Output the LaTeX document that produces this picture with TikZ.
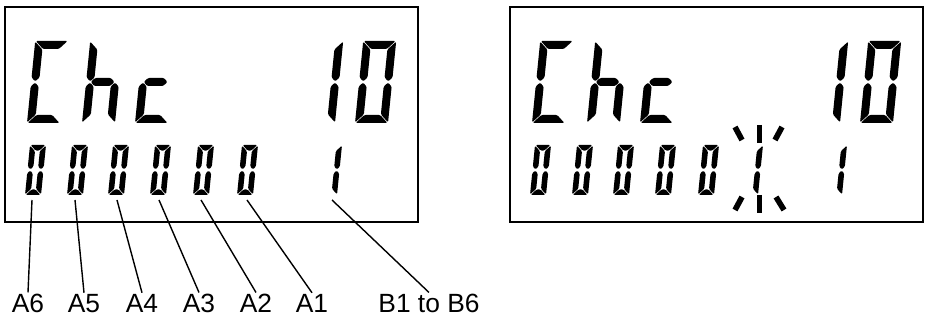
\documentclass[tikz,border=0pt]{standalone}
\usepackage{fontspec}
\setmainfont{Liberation Sans}
\usepackage{tikz,xcolor}
\usetikzlibrary{calc}

% the seven segments of one cell (a top, b/c right, d bottom, e/f left, g middle)
\newcommand{\lcda}{\fill[lcdseg] (\segd,\segh) -- (\segw-\segd,\segh) -- (\segw-\segt-\segd,\segh-\segt) -- (\segt+\segd,\segh-\segt) -- cycle;}
\newcommand{\lcdd}{\fill[lcdseg] (\segd,0) -- (\segw-\segd,0) -- (\segw-\segt-\segd,\segt) -- (\segt+\segd,\segt) -- cycle;}
\newcommand{\lcdf}{\fill[lcdseg] (0,\segh-\segd) -- (\segt,\segh-\segt-\segd) -- (\segt,\segm+\segs+\segd) -- (\segs,\segm+\segd) -- (0,\segm+\segs+\segd) -- cycle;}
\newcommand{\lcde}{\fill[lcdseg] (0,\segd) -- (\segt,\segt+\segd) -- (\segt,\segm-\segs-\segd) -- (\segs,\segm-\segd) -- (0,\segm-\segs-\segd) -- cycle;}
\newcommand{\lcdb}{\fill[lcdseg] (\segw,\segh-\segd) -- (\segw-\segt,\segh-\segt-\segd) -- (\segw-\segt,\segm+\segs+\segd) -- (\segw-\segs,\segm+\segd) -- (\segw,\segm+\segs+\segd) -- cycle;}
\newcommand{\lcdc}{\fill[lcdseg] (\segw,\segd) -- (\segw-\segt,\segt+\segd) -- (\segw-\segt,\segm-\segs-\segd) -- (\segw-\segs,\segm-\segd) -- (\segw,\segm-\segs-\segd) -- cycle;}
\newcommand{\lcdg}{\fill[lcdseg] (\segs+\segd,\segm) -- (\segt+\segd,\segm+\segs) -- (\segw-\segt-\segd,\segm+\segs) -- (\segw-\segs-\segd,\segm) -- (\segw-\segt-\segd,\segm-\segs) -- (\segt+\segd,\segm-\segs) -- cycle;}
% one slanted cell: x, y (bottom left), width, height, thickness, segments
\newcommand{\lcdchar}[6]{%
  \begin{scope}[shift={(#1,#2)},xslant=0.1]
    \def\segw{#3}\def\segh{#4}\def\segt{#5}\def\segd{0.6}
    \pgfmathsetmacro\segm{#4/2}\pgfmathsetmacro\segs{#5/2}
    \foreach \s in {#6}{\csname lcd\s\endcsname}
  \end{scope}}
\newcommand{\bigchar}[2]{\lcdchar{#1}{204}{33}{82}{8}{#2}}
\newcommand{\smallchar}[2]{\lcdchar{#1}{132}{16}{50}{5.6}{#2}}

\begin{document}
\begin{tikzpicture}[x=0.02cm,y=0.02cm,
  lcdseg/.style={black,rounded corners=0.7pt},
  panel/.style={draw=black,line width=1.1pt},
  leader/.style={black,line width=0.8pt},
  blink/.style={black,line width=3.2pt},
  tag/.style={anchor=base,inner sep=1pt,font=\fontsize{15}{17}\selectfont}]
\useasboundingbox (0,0) rectangle (928,327);
% left display
\draw[panel] (5,105) rectangle (418,320);
\bigchar{27}{a,f,e,d}
\bigchar{82}{f,e,g,c}
\bigchar{135}{g,e,d}
\bigchar{302}{b,c}
\bigchar{355}{a,b,c,d,e,f}
\smallchar{25}{a,b,c,d,e,f}
\smallchar{67}{a,b,c,d,e,f}
\smallchar{108}{a,b,c,d,e,f}
\smallchar{150}{a,b,c,d,e,f}
\smallchar{193}{a,b,c,d,e,f}
\smallchar{237}{a,b,c,d,e,f}
\smallchar{321}{b,c}
% labels under the left display
\node[tag] (a6) at (28,14) {A6};
\node[tag] (a5) at (84,14) {A5};
\node[tag] (a4) at (142,14) {A4};
\node[tag] (a3) at (199,14) {A3};
\node[tag] (a2) at (256,14) {A2};
\node[tag] (a1) at (312,14) {A1};
\node[tag] (b16) at (429,14) {B1 to B6};
\coordinate (a6top) at (32,127);
\coordinate (a5top) at (75,127);
\coordinate (a4top) at (117,127);
\coordinate (a3top) at (159,127);
\coordinate (a2top) at (201,127);
\coordinate (a1top) at (247,127);
\coordinate (b16top) at (332,127);
\draw[leader] (a6top) -- (a6.north);
\draw[leader] (a5top) -- (a5.north);
\draw[leader] (a4top) -- (a4.north);
\draw[leader] (a3top) -- (a3.north);
\draw[leader] (a2top) -- (a2.north);
\draw[leader] (a1top) -- (a1.north);
\draw[leader] (b16top) -- (b16.north);
%
% right display, moved 505 to the right
\draw[panel] (510,105) rectangle (923,320);
\bigchar{532}{a,f,e,d}
\bigchar{587}{f,e,g,c}
\bigchar{640}{g,e,d}
\bigchar{807}{b,c}
\bigchar{860}{a,b,c,d,e,f}
\smallchar{530}{a,b,c,d,e,f}
\smallchar{572}{a,b,c,d,e,f}
\smallchar{613}{a,b,c,d,e,f}
\smallchar{655}{a,b,c,d,e,f}
\smallchar{698}{a,b,c,d,e,f}
\smallchar{742}{b,c}
\smallchar{826}{b,c}
% blinking digit
\draw[blink] (735,200) -- (742,187);
\draw[blink] (759.5,202) -- (759.5,184);
\draw[blink] (782,200) -- (775,187);
\draw[blink] (742,130) -- (735,117);
\draw[blink] (759.5,132) -- (759.5,114);
\draw[blink] (776,130) -- (784,117);
\end{tikzpicture}
\end{document}
